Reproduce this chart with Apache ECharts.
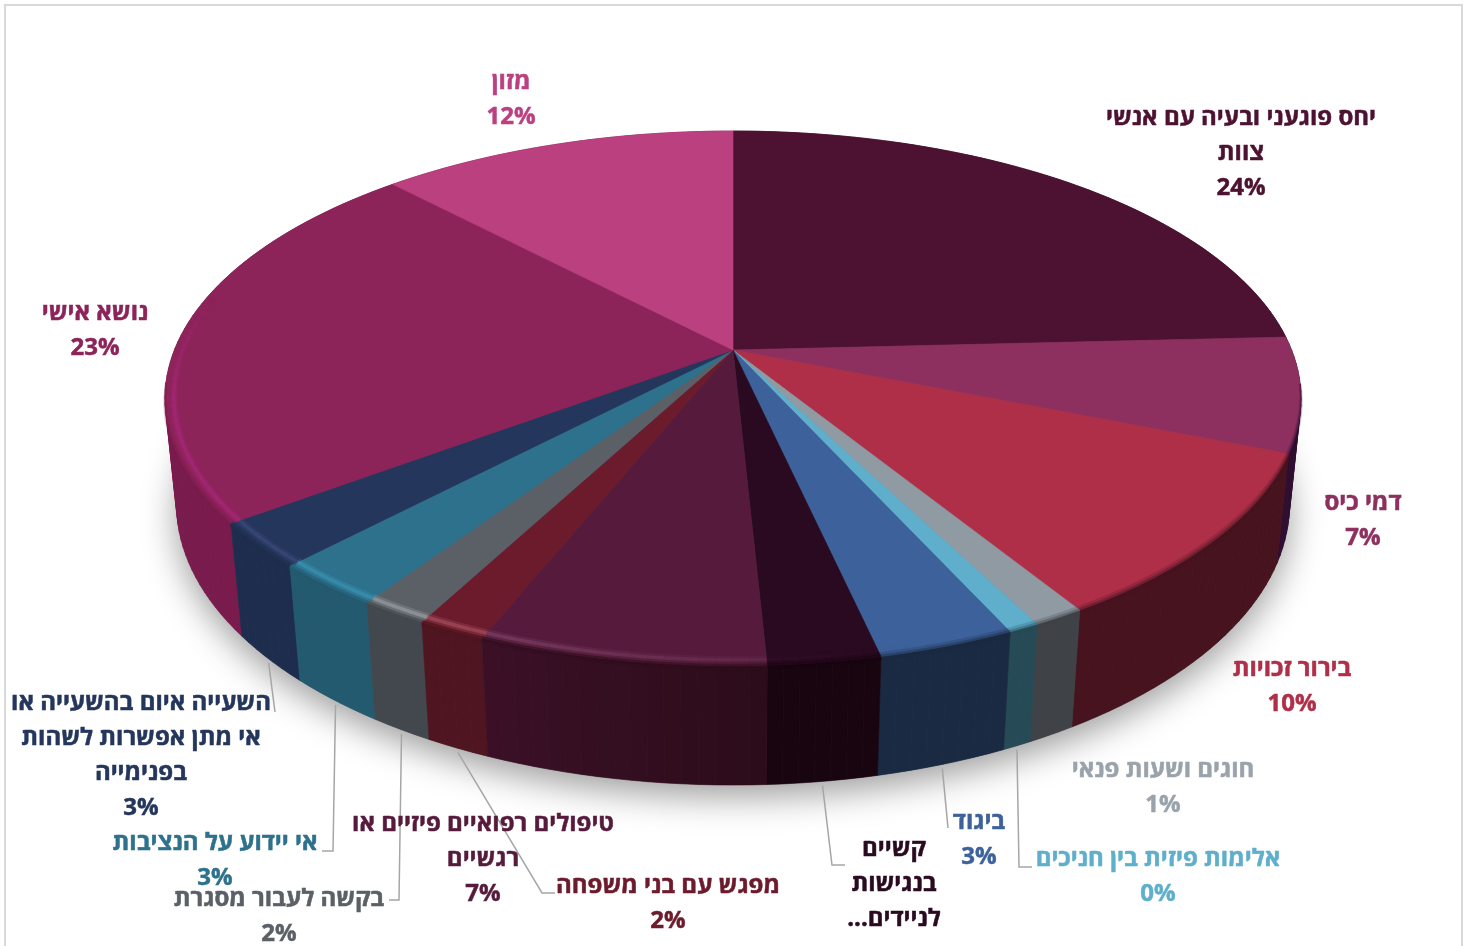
<!DOCTYPE html>
<html lang="he" dir="rtl">
<head>
<meta charset="utf-8">
<title>chart</title>
<style>
  html, body { margin: 0; padding: 0; background: #fff; }
  #chart { width: 1466px; height: 946px; }
</style>
</head>
<body>
<div id="chart"></div>
<script src="https://cdn.jsdelivr.net/npm/echarts@6/dist/echarts.min.js"></script>
<script>
// clockwise from 12 o'clock
const categories = [
  'יחס פוגעני ובעיה עם אנשי\nצוות',
  'דמי כיס',
  'בירור זכויות',
  'חוגים ושעות פנאי',
  'אלימות פיזית בין חניכים',
  'ביגוד',
  'קשיים\nבנגישות\nלניידים...',
  'טיפולים רפואיים פיזיים או\nרגשיים',
  'מפגש עם בני משפחה',
  'בקשה לעבור מסגרת',
  'אי יידוע על הנציבות',
  'השעייה איום בהשעייה או\nאי מתן אפשרות לשהות\nבפנימייה',
  'נושא אישי',
  'מזון'
]
const values = [24.2, 6.9, 10.1, 1.25, 0.75, 3.3, 2.7, 6.9, 1.65, 1.65, 2.7, 2.7, 23.1, 12.1]
const percentLabels = ['24%', '7%', '10%', '1%', '0%', '3%', '', '7%', '2%', '2%', '3%', '3%', '23%', '12%']

const topColors = ['#4D1232', '#8D3060', '#AF2F49', '#8F9AA3', '#5FAFCC', '#3D619B', '#2A0A20', '#561B3C', '#6B1B2C', '#5A6066', '#2D718C', '#24365B', '#8C2359', '#BB4080']
const rimColors = ['#4D1232', '#8D3060', '#AF2F49', '#8F9AA3', '#5FAFCC', '#3D619B', '#3A1530', '#7A3F64', '#A84E5E', '#9A9EA2', '#3A94B4', '#3A4A7A', '#A8287A', '#BB4080']
const wallColors = [
  ['#3A0D26', '#3A0D26'], ['#331038', '#2E0E30'], ['#47131F', '#47131F'], ['#3F4246', '#3F4246'],
  ['#264B56', '#264B56'], ['#1A2A42', '#1A2A42'], ['#180510', '#180510'], ['#2C0C1A', '#3C1028'],
  ['#4F1520', '#4F1520'], ['#43484F', '#43484F'], ['#235A70', '#235A70'], ['#1E2D4E', '#1E2D4E'],
  ['#7A1B4E', '#7A1B4E'], ['#7A1B4E', '#7A1B4E']
]
const labelColors = ['#4D1232', '#8D3060', '#AF2F49', '#9AA3AB', '#5FAFCC', '#3D619B', '#2A0A20', '#561B3C', '#6B1B2C', '#5A6066', '#2D718C', '#24365B', '#8C2359', '#BB4080']
const labelCenters = [
  [1241, 153], [1363, 521], [1292, 687], [1163, 788], [1158, 877], [979, 840], [894, 884],
  [483, 859], [668, 904], [279, 917], [215, 861], [141, 756], [95, 331], [511, 100]
]
// rest of each leader line after it leaves the pie
const leaderBends = {
  4: [[1019, 867], [1032, 867]],
  5: [[948, 828]],
  6: [[832, 865], [845, 865]],
  8: [[542, 893], [555, 893]],
  9: [[399, 900], [389, 900]],
  10: [[333, 851], [322, 851]],
  11: [[275, 712]]
}

// tilted disc, perspective projection
const cx = 733
const cy = 350
const scaleX = 558.6
const scaleY = 258.6
const depthDrop = 106.4
const tilt = 0.181
const depthW = 0.02
const step = 1.5

function project(theta, r, d) {
  const u = Math.sin(theta) * r
  const v = Math.cos(theta) * r
  const w = 1 + tilt * v + depthW * d
  return [cx + scaleX * u / w, cy + (-scaleY * v + depthDrop * d) / w]
}

const total = values.reduce((a, b) => a + b, 0)
function startOf(i) {
  let s = 0
  for (let k = 0; k < i; k++) s += values[k]
  return s / total * Math.PI * 2
}

function arcPoints(a0, a1, r, d) {
  const n = Math.max(2, Math.ceil((a1 - a0) * 180 / Math.PI / step))
  const pts = []
  for (let k = 0; k <= n; k++) pts.push(project(a0 + (a1 - a0) * k / n, r, d))
  return pts
}

// highlight on the rounded edge, lower left only
function sheen(deg) {
  if (deg < 165 || deg > 282) return 0
  return Math.min(1, (deg - 165) / 35, (282 - deg) / 25)
}

function renderSlice(params, api) {
  const i = params.dataIndex
  const a0 = startOf(i)
  const a1 = a0 + api.value(0) / total * Math.PI * 2
  const children = []
  const n = Math.max(2, Math.ceil((a1 - a0) * 180 / Math.PI / step))

  // side wall
  for (let k = 0; k < n; k++) {
    const t0 = a0 + (a1 - a0) * k / n
    const t1 = a0 + (a1 - a0) * (k + 1) / n
    const c = echarts.color.lerp(k / n, wallColors[i])
    children.push({
      type: 'polygon',
      z2: 10 + (1 - Math.cos(t0)) * 100,
      shape: { points: [project(t0, 1, 0), project(t1, 1, 0), project(t1, 1, 1), project(t0, 1, 1)] },
      style: { fill: c, stroke: c, lineWidth: 0.6 }
    })
  }

  // top face
  children.push({
    type: 'polygon',
    z2: 300,
    shape: { points: [[cx, cy]].concat(arcPoints(a0, a1, 1, 0)) },
    style: { fill: topColors[i], stroke: topColors[i], lineWidth: 0.6 }
  })

  // rounded edge: only where the rim has a wall below it, thinner towards the sides
  for (let k = 0; k < n; k++) {
    const t0 = a0 + (a1 - a0) * k / n
    const t1 = a0 + (a1 - a0) * (k + 1) / n
    const mid = (t0 + t1) / 2
    const front = -Math.cos(mid)
    if (front < 0.12) continue
    const edge = [project(t0, 1, 0), project(t1, 1, 0)]
    const fade = Math.min(1, front * 1.6)
    children.push({
      type: 'polyline', z2: 301, shape: { points: edge },
      style: { fill: null, stroke: wallColors[i][0], lineWidth: 1 + 8 * fade, opacity: 0.22, lineCap: 'butt' }
    })
    children.push({
      type: 'polyline', z2: 301, shape: { points: edge },
      style: { fill: null, stroke: wallColors[i][0], lineWidth: 1 + 3 * fade, opacity: 0.4, lineCap: 'butt' }
    })
  }
  for (let k = 0; k < n; k++) {
    const t0 = a0 + (a1 - a0) * k / n
    const t1 = a0 + (a1 - a0) * (k + 1) / n
    const s = sheen((t0 + t1) / 2 * 180 / Math.PI)
    if (s <= 0) continue
    const seg = [project(t0, 0.985, 0), project(t1, 0.985, 0)]
    children.push({
      type: 'polyline', z2: 302, shape: { points: seg },
      style: { fill: null, stroke: rimColors[i], lineWidth: 8, opacity: 0.3 * s, lineCap: 'butt' }
    })
    children.push({
      type: 'polyline', z2: 303, shape: { points: seg },
      style: { fill: null, stroke: rimColors[i], lineWidth: 3.5, opacity: 0.65 * s, lineCap: 'butt' }
    })
  }

  // leader line starts under the middle of the slice
  if (leaderBends[i]) {
    const start = project((a0 + a1) / 2, 1, 1)
    children.push({
      type: 'polyline',
      z2: 350,
      shape: { points: [[start[0], start[1] + 4]].concat(leaderBends[i]) },
      style: { fill: null, stroke: '#A6A6A6', lineWidth: 1.5 }
    })
  }

  const pct = percentLabels[i]
  children.push({
    type: 'text',
    z2: 400,
    style: {
      x: labelCenters[i][0],
      y: labelCenters[i][1],
      text: pct ? categories[i] + '\n' + pct : categories[i],
      fill: labelColors[i],
      stroke: labelColors[i],
      lineWidth: 0.5,
      font: 'bold 24px "Open Sans", sans-serif',
      lineHeight: 35,
      align: 'center',
      verticalAlign: 'middle'
    }
  })
  return { type: 'group', children: children }
}

// blurred floor shadow under the lower rim
function renderShadow() {
  return {
    type: 'polygon',
    z2: 0,
    shape: { points: arcPoints(0, Math.PI * 2, 1, 1) },
    style: {
      fill: '#666',
      shadowBlur: 34,
      shadowColor: 'rgba(0,0,0,0.38)',
      shadowOffsetY: 12
    }
  }
}

const chart = echarts.init(document.getElementById('chart'), null, { renderer: 'canvas' })
chart.setOption({
  animation: false,
  backgroundColor: '#fff',
  graphic: [{
    type: 'rect',
    shape: { x: 5, y: 5, width: 1457, height: 960 },
    style: { fill: null, stroke: '#D9D9D9', lineWidth: 2 },
    silent: true
  }],
  series: [
    { type: 'custom', coordinateSystem: 'none', z: 1, data: [0], renderItem: renderShadow, silent: true },
    { type: 'custom', coordinateSystem: 'none', z: 2, data: values, renderItem: renderSlice, silent: true }
  ]
})
</script>
</body>
</html>
